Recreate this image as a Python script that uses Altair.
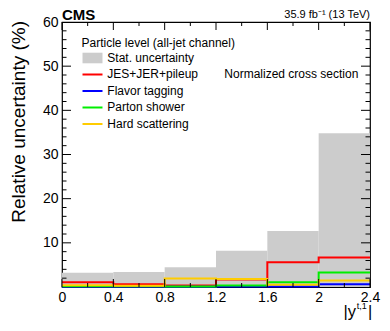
import altair as alt
import pandas as pd

# ---- data ----
edges = [0.0, 0.4, 0.8, 1.2, 1.6, 2.0, 2.4]
stat_unc = [3.2, 3.4, 4.5, 8.2, 12.7, 34.8]
jes_jer_pileup = [1.1, 0.6, 0.35, 1.7, 5.6, 6.7]
flavor_tagging = [0.05, 0.05, 0.05, 0.1, 0.1, 0.6]
parton_shower = [0.15, 0.15, 0.1, 0.35, 1.1, 3.3]
hard_scattering = [0.4, 0.3, 1.9, 1.8, 0.5, 1.5]

series_names = ["JES+JER+pileup", "Flavor tagging", "Parton shower", "Hard scattering"]
series_vals = [jes_jer_pileup, flavor_tagging, parton_shower, hard_scattering]
series_colors = ["#ff0000", "#0000ff", "#00ee00", "#ffcc00"]

x_major = [0.0, 0.4, 0.8, 1.2, 1.6, 2.0, 2.4]
x_minor = [0.2, 0.6, 1.0, 1.4, 1.8, 2.2]
y_major = [10, 20, 30, 40, 50]
y_minor = [2, 4, 6, 8, 12, 14, 16, 18, 22, 24, 26, 28, 32, 34, 36, 38, 42, 44, 46, 48, 52, 54, 56, 58]
y_labels = [10, 20, 30, 40, 50, 60]

W, H = 308, 265
FONT = "Liberation Sans"

xs = alt.Scale(domain=[0, 2.4], nice=False, zero=False)
ys = alt.Scale(domain=[0, 60], nice=False)

stat_df = pd.DataFrame({"lo": edges[:-1], "hi": edges[1:], "v": stat_unc})
stat = alt.Chart(stat_df).mark_rect(color="#cccccc").encode(
    x=alt.X("lo:Q", scale=xs,
            axis=alt.Axis(values=x_major, labelExpr="datum.value == 0 ? '0' : format(datum.value, '~g')",
                          ticks=False, domain=False, grid=False, title=None,
                          labelFontSize=14, labelFont=FONT, labelColor="black",
                          labelPadding=3, labelFlush=False, labelOverlap=False)),
    x2="hi:Q",
    y=alt.Y("v:Q", scale=ys,
            axis=alt.Axis(values=y_labels, ticks=False, domain=False, grid=False, title=None,
                          labelFontSize=14, labelFont=FONT, labelColor="black",
                          labelPadding=4, labelFlush=False, labelOverlap=False)),
    y2=alt.datum(0),
)

layers = [stat]
for name, vals, col in zip(series_names, series_vals, series_colors):
    df = pd.DataFrame({"x": edges, "v": vals + [vals[-1]]})
    layers.append(
        alt.Chart(df).mark_line(interpolate="step-after", color=col, strokeWidth=2).encode(
            x=alt.X("x:Q", scale=xs), y=alt.Y("v:Q", scale=ys)
        )
    )

# inward ticks on all four sides
def xticks(vals, length):
    df = pd.DataFrame({"x": vals})
    b = alt.Chart(df).mark_rule(color="black", strokeWidth=1).encode(
        x=alt.X("x:Q", scale=xs), y=alt.value(H), y2=alt.value(H - length))
    t = alt.Chart(df).mark_rule(color="black", strokeWidth=1).encode(
        x=alt.X("x:Q", scale=xs), y=alt.value(0), y2=alt.value(length))
    return [b, t]

def yticks(vals, length):
    df = pd.DataFrame({"y": vals})
    l = alt.Chart(df).mark_rule(color="black", strokeWidth=1).encode(
        y=alt.Y("y:Q", scale=ys), x=alt.value(0), x2=alt.value(length))
    r = alt.Chart(df).mark_rule(color="black", strokeWidth=1).encode(
        y=alt.Y("y:Q", scale=ys), x=alt.value(W), x2=alt.value(W - length))
    return [l, r]

layers += xticks(x_major, 8) + xticks(x_minor, 4) + yticks(y_major, 9) + yticks(y_minor, 4.5)

def txt(s, x, y, size=12, align="left", baseline="middle", bold=False, angle=0):
    kw = dict(align=align, baseline=baseline, fontSize=size, font=FONT, color="black")
    if bold:
        kw["fontWeight"] = "bold"
    if angle:
        kw["angle"] = angle
    return alt.Chart(pd.DataFrame({"t": [s]})).mark_text(**kw).encode(
        text="t:N", x=alt.value(x), y=alt.value(y))

# legend
leg_title = "Particle level (all-jet channel)"
layers.append(txt(leg_title, 19.5, 20.5, 12))
leg_y0, leg_dy = 36, 16.5
layers.append(
    alt.Chart(pd.DataFrame({"a": [0]})).mark_rect(color="#cccccc").encode(
        x=alt.value(20.5), x2=alt.value(40.5), y=alt.value(leg_y0 - 5.3), y2=alt.value(leg_y0 + 5.3))
)
layers.append(txt("Stat. uncertainty", 45.3, leg_y0 - 0.5, 12))
for i, (name, col) in enumerate(zip(series_names, series_colors)):
    yy = leg_y0 + leg_dy * (i + 1)
    layers.append(
        alt.Chart(pd.DataFrame({"a": [0]})).mark_rule(color=col, strokeWidth=2).encode(
            x=alt.value(20.5), x2=alt.value(40.5), y=alt.value(yy))
    )
    layers.append(txt(name, 45.3, yy - 0.5, 12))

layers.append(txt("Normalized cross section", 162.3, 52, 12))

# header texts
layers.append(txt("CMS", 0, -2.5, 15, baseline="alphabetic", bold=True))
layers.append(txt("35.9 fb\u207b\u00b9 (13 TeV)", W, -4, 11, align="right", baseline="alphabetic"))

# axis titles
layers.append(txt("Relative uncertainty (%)", -37.5, -1, 19, align="right", baseline="alphabetic", angle=270))
layers.append(txt("|y", 294, 295, 16.5, align="right", baseline="alphabetic"))
layers.append(txt("t,1", 294.8, 286.5, 9, align="left", baseline="alphabetic"))
layers.append(txt("|", 306, 295, 16.5, align="left", baseline="alphabetic"))

chart = alt.layer(*layers).properties(
    width=W, height=H,
    autosize=alt.AutoSizeParams(type="none"),
    padding={"left": 54, "top": 14, "right": 12, "bottom": 36},
).configure_view(stroke="black", strokeWidth=1.2)

chart.save("out.html", embed_options={"renderer": "svg", "actions": False})
